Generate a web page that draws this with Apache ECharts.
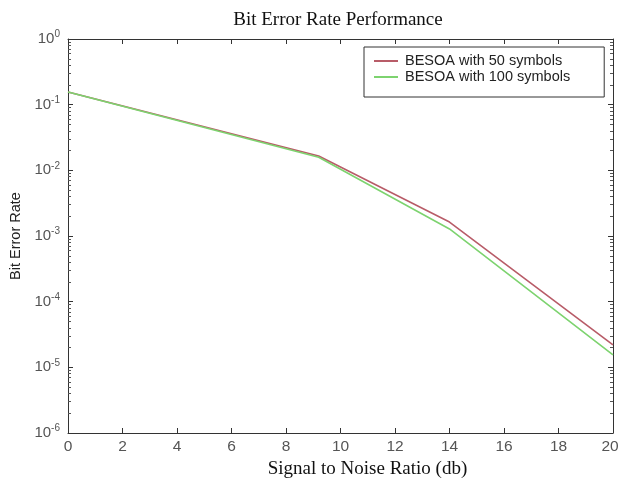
<!DOCTYPE html>
<html>
<head>
<meta charset="utf-8">
<script src="https://cdn.jsdelivr.net/npm/echarts@6/dist/echarts.min.js"></script>
<style>html,body{margin:0;padding:0;background:#fff}#c{width:619px;height:479px}</style>
</head>
<body>
<div id="c"></div>
<script>
var snr = [0, 9.2, 14, 20];
var ber50 = [0.156, 0.0165, 0.00163, 2.2e-5];
var ber100 = [0.156, 0.0158, 0.00128, 1.55e-5];
var xTicks = [0, 2, 4, 6, 8, 10, 12, 14, 16, 18, 20];
var yExponents = [0, -1, -2, -3, -4, -5, -6];

function pairs(xs, ys) { return xs.map(function (x, i) { return [x, ys[i]]; }); }

var chart = echarts.init(document.getElementById('c'));
var axisColor = '#333';
var sans = 'Liberation Sans, Arial, sans-serif';
var serif = 'Liberation Serif, Times New Roman, serif';

chart.setOption({
  backgroundColor: '#fff',
  animation: false,
  title: {
    text: 'Bit Error Rate Performance',
    left: 333, top: 6, textAlign: 'center',
    textStyle: { fontFamily: serif, fontSize: 19, fontWeight: 'normal', color: '#111' }
  },
  legend: {
    left: 364, top: 47, orient: 'vertical',
    borderColor: '#333', borderWidth: 1, backgroundColor: '#fff',
    padding: [6, 34, 12, 10], itemGap: 0,
    itemWidth: 24, itemHeight: 2, icon: 'rect',
    textStyle: { fontFamily: sans, fontSize: 14.5, color: '#222', lineHeight: 16, padding: [0, 0, 0, 2] },
    data: ['BESOA with 50 symbols', 'BESOA with 100 symbols']
  },
  grid: { left: 68, right: 6, top: 39, bottom: 46, outerBoundsMode: 'none', containLabel: false },
  xAxis: [{
    type: 'value', min: 0, max: 20, interval: 2, position: 'bottom',
    name: 'Signal to Noise Ratio (db)', nameLocation: 'middle', nameGap: 25,
    nameTextStyle: { fontFamily: serif, fontSize: 19, color: '#111', padding: [0, 0, 0, 54] },
    axisLine: { show: true, onZero: false, lineStyle: { color: axisColor, width: 1 } },
    axisTick: { show: true, inside: true, length: 5, lineStyle: { color: axisColor } },
    axisLabel: { fontFamily: sans, fontSize: 15.5, color: '#555', margin: 6,
      formatter: function (v) {
        if (xTicks.indexOf(v) < 0) return '';
        return v === 20 ? '{last|20}' : String(v);
      },
      rich: { last: { fontFamily: sans, fontSize: 15.5, color: '#555', padding: [0, 6, 0, 0] } }
    },
    splitLine: { show: false }
  }, {
    type: 'value', min: 0, max: 20, interval: 2, position: 'top',
    axisLine: { show: true, onZero: false, lineStyle: { color: axisColor, width: 1 } },
    axisTick: { show: true, inside: true, length: 5, lineStyle: { color: axisColor } },
    axisLabel: { show: false }, splitLine: { show: false }
  }],
  yAxis: [{
    type: 'log', logBase: 10, min: 1e-6, max: 1, position: 'left',
    name: 'Bit Error Rate', nameLocation: 'middle', nameGap: 44, nameRotate: 90,
    nameTextStyle: { fontFamily: sans, fontSize: 14.5, color: '#222' },
    axisLine: { show: true, onZero: false, lineStyle: { color: axisColor, width: 1 } },
    axisTick: { show: true, inside: true, length: 5, lineStyle: { color: axisColor } },
    minorTick: { show: true, splitNumber: 9, length: 3, lineStyle: { color: '#555' } },
    axisLabel: {
      fontFamily: sans, fontSize: 15, color: '#555', margin: 8,
      formatter: function (v) {
        var e = Math.round(Math.log10(v));
        if (yExponents.indexOf(e) < 0) return '';
        return '10{s|' + e + '}';
      },
      rich: { s: { fontSize: 10, fontFamily: sans, color: '#555', padding: [0, 0, 9, 0] } }
    },
    splitLine: { show: false }
  }, {
    type: 'log', logBase: 10, min: 1e-6, max: 1, position: 'right',
    axisLine: { show: true, onZero: false, lineStyle: { color: axisColor, width: 1 } },
    axisTick: { show: true, inside: true, length: 5, lineStyle: { color: axisColor } },
    minorTick: { show: true, splitNumber: 9, length: 3, lineStyle: { color: '#555' } },
    axisLabel: { show: false }, splitLine: { show: false }
  }],
  series: [{
    name: 'BESOA with 50 symbols', type: 'line', xAxisIndex: 0, yAxisIndex: 0,
    data: pairs(snr, ber50), showSymbol: false, symbol: 'none',
    lineStyle: { color: '#b85c68', width: 1.6 }, itemStyle: { color: '#b85c68' }
  }, {
    name: 'BESOA with 100 symbols', type: 'line', xAxisIndex: 0, yAxisIndex: 0,
    data: pairs(snr, ber100), showSymbol: false, symbol: 'none',
    lineStyle: { color: '#7dd36f', width: 1.6 }, itemStyle: { color: '#7dd36f' }
  }]
});
</script>
</body>
</html>
